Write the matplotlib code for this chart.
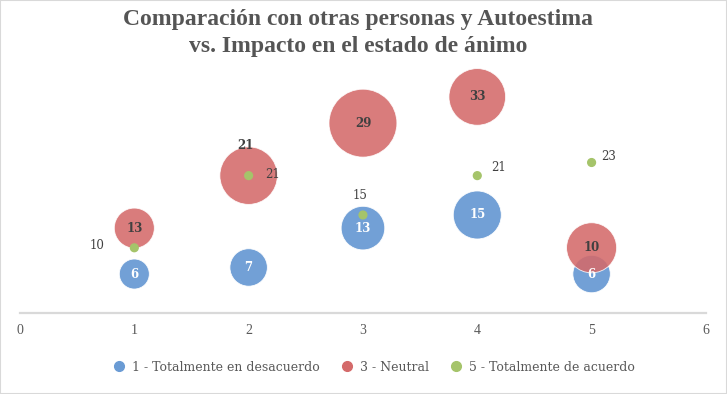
import numpy as np
from matplotlib import pyplot as plt
from matplotlib.lines import Line2D
from matplotlib.patches import Rectangle

# Data: x = answer group, y = value shown on each bubble
x_vals = [1, 2, 3, 4, 5]
blue_y = [6, 7, 13, 15, 6]
red_y = [13, 21, 29, 33, 10]
green_y = [10, 21, 15, 21, 23]
# Bubble sizes (relative areas, estimated from the bubble diameters)
blue_size = [9, 14, 19, 23, 14]
red_size = [16, 33, 46, 32, 25]
green_size = [0.6, 0.6, 0.6, 0.6, 0.6]

series_names = ['1 - Totalmente en desacuerdo', '3 - Neutral', '5 - Totalmente de acuerdo']
title = 'Comparación con otras personas y Autoestima\nvs. Impacto en el estado de ánimo'

BLUE = '#6a9bd4'
RED = '#d46a6a'
GREEN = '#a5c46a'
TXT = '#404040'
SCALE = 52.0  # size -> points^2

fig = plt.figure(figsize=(7.27, 3.94), dpi=100)
ax = fig.add_axes([0.0275, 0.2046, 0.9435, 0.666])

ax.scatter(x_vals, blue_y, s=np.array(blue_size) * SCALE, color=BLUE, alpha=0.95,
           edgecolors='white', linewidths=0.6, zorder=2)
ax.scatter(x_vals, red_y, s=np.array(red_size) * SCALE, color=RED, alpha=0.88,
           edgecolors='white', linewidths=0.6, zorder=3)
ax.scatter(x_vals, green_y, s=np.array(green_size) * SCALE, color=GREEN,
           zorder=4)

font = 'Liberation Serif'
lab_font = 'DejaVu Serif'
# Blue labels: white, centred
for x, y in zip(x_vals, blue_y):
    ax.annotate(str(y), (x, y), ha='center', va='center', color='white',
                fontsize=8.5, weight='bold', family=lab_font, zorder=5)
# Red labels: centred, the one at x=2 sits above the bubble
red_off = [(0, 0), (-2, 22), (0, 0), (0, 0), (0, 0)]
for (x, y), off in zip(zip(x_vals, red_y), red_off):
    ax.annotate(str(y), (x, y), xytext=off, textcoords='offset points',
                ha='center', va='center', color=TXT, fontsize=8.5,
                weight='bold', family=lab_font, zorder=5)
# Green labels
green_off = [(-27, 2), (17, 1), (-2, 14), (15, 6), (12, 4)]
for (x, y), off in zip(zip(x_vals, green_y), green_off):
    ax.annotate(str(y), (x, y), xytext=off, textcoords='offset points',
                ha='center', va='center', color=TXT, fontsize=8.5,
                family=lab_font, zorder=5)

ax.set_xlim(0, 6)
ax.set_ylim(0, 40)
ax.set_xticks(range(0, 7))
ax.set_yticks([])
for side in ['left', 'right', 'top']:
    ax.spines[side].set_visible(False)
ax.spines['bottom'].set_color('#d9d9d9')
ax.spines['bottom'].set_linewidth(1.6)
ax.tick_params(axis='x', length=0, pad=8, labelsize=10, labelcolor='#595959')
for lab in ax.get_xticklabels():
    lab.set_family(font)

fig.suptitle(title, x=0.493, y=0.978, fontsize=17, weight='bold',
             family=font, color='#555555', linespacing=1.4)

handles = [Line2D([], [], marker='o', ls='', markersize=7, color=c)
           for c in (BLUE, RED, GREEN)]
leg = fig.legend(handles, series_names, loc='center', bbox_to_anchor=(0.51, 0.068),
                 ncol=3, frameon=False, handletextpad=0.0, columnspacing=1.2,
                 prop={'family': lab_font, 'size': 9})
for t in leg.get_texts():
    t.set_color('#595959')

fig.patches.append(Rectangle((0, 0), 1, 1, transform=fig.transFigure,
                             fill=False, edgecolor='#d9d9d9', lw=1.5))

fig.savefig('out.png', dpi=100)
